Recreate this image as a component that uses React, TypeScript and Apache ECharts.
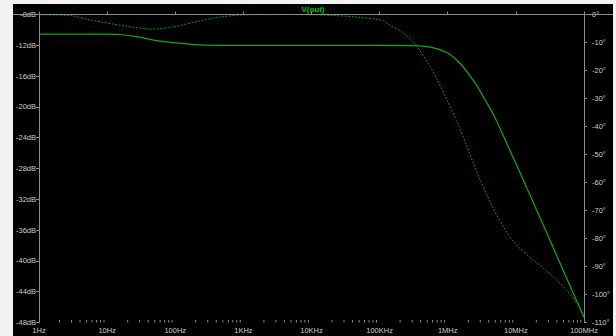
import React, { useEffect, useRef } from "react";
import * as echarts from "echarts";

// Magnitude trace (solid, left axis, dB)
const magFreq = [1, 10, 15, 30, 46, 80, 124, 240, 500, 1e4, 1e5, 3e5, 6e5, 1e6, 1.5e6, 2.1e6, 2.7e6, 3.5e6, 4.5e6, 5.6e6, 7.3e6, 9.5e6, 1.66e7, 2.7e7, 4.06e7, 6.2e7, 1e8];
const magDb = [-10.55, -10.55, -10.6, -10.95, -11.3, -11.6, -11.75, -11.95, -12.0, -12.0, -12.0, -12.05, -12.3, -13.0, -14.3, -15.9, -17.3, -19.0, -20.7, -22.4, -24.7, -26.9, -31.7, -35.9, -39.5, -43.2, -47.3];

// Phase trace (dashed, right axis, degrees)
const phaseFreq = [1, 2.7, 5.8, 17.4, 46, 89, 239, 463, 1100, 6300, 19000, 45000, 110000, 136000, 213000, 300000, 360000, 500000, 690000, 970000, 1.4e6, 1.86e6, 2.9e6, 4.6e6, 6.7e6, 9.5e6, 1.66e7, 3.2e7, 5.6e7, 8.7e7, 1e8];
const phaseDeg = [-0.1, -0.3, -2.0, -4.0, -5.2, -4.5, -2.2, -0.9, -0.1, 0, -0.3, -0.9, -2.1, -3.6, -6.3, -9.4, -11.7, -16.9, -22.9, -30.4, -39.0, -46.4, -58.3, -68.9, -76.2, -81.5, -87.0, -92.7, -98.6, -104.7, -108.6];

const freqLabels = ["1Hz", "10Hz", "100Hz", "1KHz", "10KHz", "100KHz", "1MHz", "10MHz", "100MHz"];
const dbMin = -48;
const dbMax = -8;
const dbStep = 4;
const degMin = -110;
const degMax = 0;
const degStep = 10;
const title = "V(out)";

const AXIS = "#8c8c8c";
const LABEL = "#cccccc";
const FONT = "Liberation Sans, Arial, sans-serif";

const minorTicks: number[] = [];
for (let d = 0; d < 8; d++) {
  for (let k = 2; k <= 9; k++) minorTicks.push(k * Math.pow(10, d));
}

export default function App() {
  const ref = useRef<HTMLDivElement>(null);
  useEffect(() => {
    if (!ref.current) return;
    const chart = echarts.init(ref.current, undefined, { renderer: "svg" });
    chart.setOption({
      animation: false,
      backgroundColor: "#000",
      grid: { left: 20, top: 10.5, right: 18.5, bottom: 13.5, containLabel: false },
      graphic: [
        {
          type: "line",
          shape: { x1: 0, y1: 10.5, x2: 600, y2: 10.5 },
          style: { stroke: AXIS, lineWidth: 1 },
          z: 10,
        },
        {
          type: "text",
          x: 300,
          y: 5,
          style: {
            text: title,
            fill: "#00c800",
            font: `bold 8px ${FONT}`,
            textAlign: "center",
            textVerticalAlign: "middle",
          },
        },
      ],
      xAxis: {
        type: "log",
        logBase: 10,
        min: 1,
        max: 1e8,
        interval: 1,
        splitNumber: 8,
        axisLine: { show: true, lineStyle: { color: AXIS, width: 1 } },
        axisTick: { show: true, inside: true, length: 3, lineStyle: { color: AXIS } },
        splitLine: { show: false },
        axisLabel: {
          color: LABEL,
          fontSize: 7.5,
          fontFamily: FONT,
          margin: 4,
          formatter: (v: number) => freqLabels[Math.round(Math.log10(v))] ?? "",
        },
      },
      yAxis: [
        {
          type: "value",
          min: dbMin,
          max: dbMax,
          interval: dbStep,
          position: "left",
          axisLine: { show: true, lineStyle: { color: AXIS, width: 1 } },
          axisTick: { show: true, length: 3, lineStyle: { color: AXIS } },
          splitLine: { show: false },
          axisLabel: {
            color: LABEL,
            fontSize: 7.5,
            fontFamily: FONT,
            margin: 3,
            formatter: (v: number) => `${v}dB`,
          },
        },
        {
          type: "value",
          min: degMin,
          max: degMax,
          interval: degStep,
          position: "right",
          axisLine: { show: true, lineStyle: { color: AXIS, width: 1 } },
          axisTick: { show: true, length: 3, lineStyle: { color: AXIS } },
          splitLine: { show: false },
          axisLabel: {
            color: LABEL,
            fontSize: 7.5,
            fontFamily: FONT,
            margin: 8,
            formatter: (v: number) => `${v}°`,
          },
        },
      ],
      series: [
        {
          type: "custom",
          silent: true,
          clip: false,
          xAxisIndex: 0,
          yAxisIndex: 0,
          data: minorTicks.map((f) => [f, dbMin]),
          renderItem: (_p: any, api: any) => {
            const pt = api.coord([api.value(0), api.value(1)]);
            return {
              type: "line",
              shape: { x1: pt[0], y1: pt[1], x2: pt[0], y2: pt[1] - 2.5 },
              style: { stroke: AXIS, lineWidth: 1 },
            };
          },
        },
        {
          type: "line",
          yAxisIndex: 0,
          data: magFreq.map((f, i) => [f, magDb[i]]),
          showSymbol: false,
          smooth: 0.3,
          lineStyle: { color: "#0cac0c", width: 1.2 },
        },
        {
          type: "line",
          yAxisIndex: 1,
          data: phaseFreq.map((f, i) => [f, phaseDeg[i]]),
          showSymbol: false,
          smooth: 0.3,
          lineStyle: { color: "#009c00", width: 1, type: [2, 1.5] },
        },
      ],
    });
    return () => chart.dispose();
  }, []);
  return (
    <div style={{ position: "fixed", left: 0, top: 0, width: 616, height: 336, background: "#f2f2f2" }}>
      <div ref={ref} style={{ position: "absolute", left: 13, top: 4, width: 600, height: 332 }} />
    </div>
  );
}
